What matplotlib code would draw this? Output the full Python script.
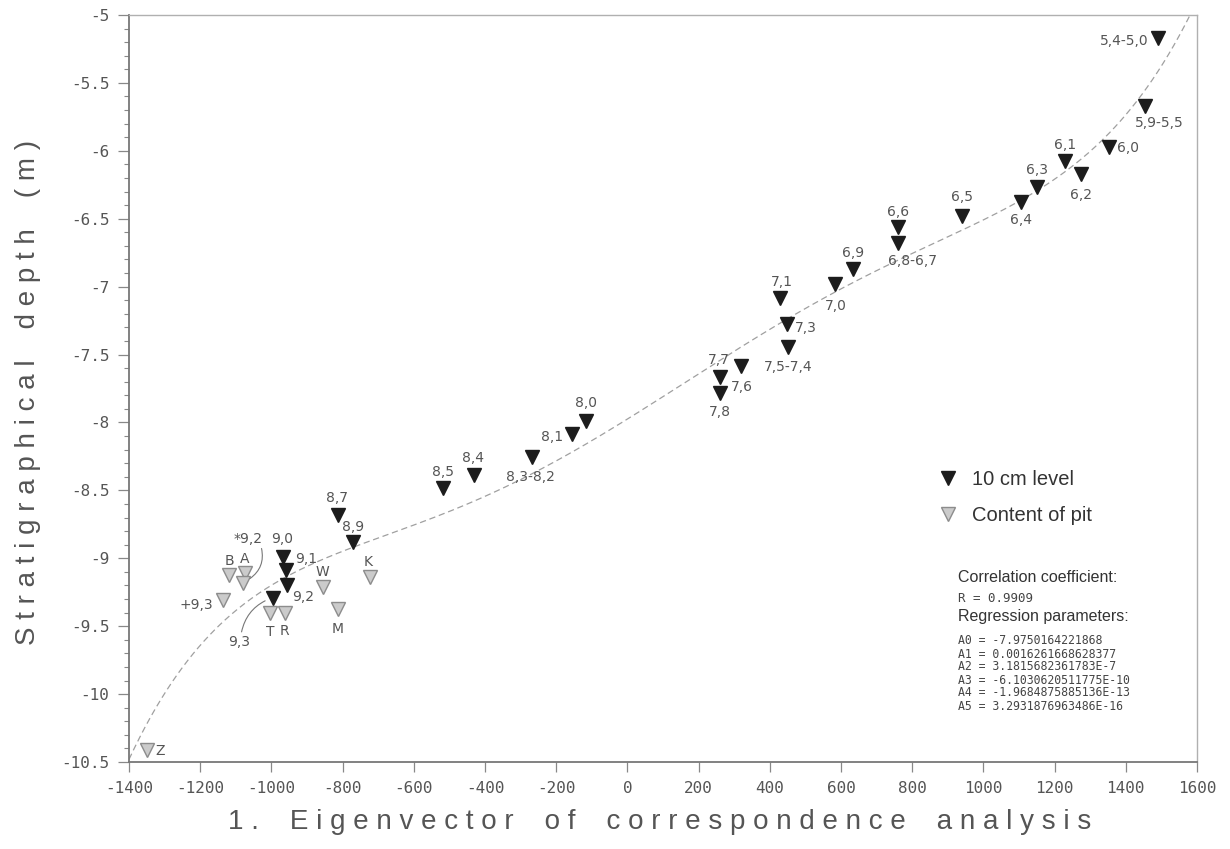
import matplotlib
matplotlib.use("Agg")
import matplotlib.pyplot as plt
import numpy as np
from matplotlib.ticker import MultipleLocator

# 10 cm levels (black triangles)
level_labels = ['5,4-5,0', '5,9-5,5', '6,0', '6,1', '6,2', '6,3', '6,4', '6,5',
                '6,6', '6,8-6,7', '6,9', '7,0', '7,1', '7,3', '7,5-7,4', '7,7',
                '7,6', '7,8', '8,0', '8,1', '8,3-8,2', '8,4', '8,5', '8,7', '8,9',
                '9,0', '9,1', '9,2', '9,3']
level_x = [1490, 1454, 1353, 1229, 1274, 1151, 1106, 940, 760, 760, 634, 583,
           429, 448, 451, 260, 319, 260, -116, -156, -268, -431, -518, -813,
           -771, -967, -959, -956, -996]
level_y = [-5.17, -5.67, -5.97, -6.075, -6.17, -6.27, -6.38, -6.48, -6.56, -6.68,
           -6.87, -6.98, -7.08, -7.275, -7.445, -7.665, -7.585, -7.78, -7.99,
           -8.085, -8.255, -8.39, -8.48, -8.68, -8.88, -8.99, -9.09, -9.20, -9.29]

# content of pits (grey triangles)
pit_labels = ['B', 'A', '*9,2', '+9,3', 'T', 'R', 'W', 'M', 'K', 'Z']
pit_x = [-1119, -1074, -1080, -1136, -1004, -962, -855, -813, -723, -1349]
pit_y = [-9.12, -9.11, -9.18, -9.31, -9.40, -9.40, -9.21, -9.37, -9.14, -10.41]

r_value = '0.9909'
reg_params = ['-7.9750164221868', '0.0016261668628377', '3.1815682361783E-7',
              '-6.1030620511775E-10', '-1.9684875885136E-13', '3.2931876963486E-16']

x_ticks = list(range(-1400, 1601, 200))
y_ticks = [-5, -5.5, -6, -6.5, -7, -7.5, -8, -8.5, -9, -9.5, -10, -10.5]
y_tick_labels = ['-5', '-5.5', '-6', '-6.5', '-7', '-7.5', '-8', '-8.5', '-9',
                 '-9.5', '-10', '-10.5']

# label placement: (dx px, dy px, ha)
place = {
    '5,4-5,0': (-9, -3, 'right'), '5,9-5,5': (14, -17, 'center'),
    '6,0': (8, -1, 'left'), '6,1': (0, 16, 'center'), '6,2': (0, -21, 'center'),
    '6,3': (0, 17, 'center'), '6,4': (0, -18, 'center'), '6,5': (0, 19, 'center'),
    '6,6': (0, 15, 'center'), '6,8-6,7': (15, -18, 'center'),
    '6,9': (0, 16, 'center'), '7,0': (1, -22, 'center'), '7,1': (2, 16, 'center'),
    '7,3': (8, -4, 'left'), '7,5-7,4': (0, -20, 'center'),
    '7,7': (-1, 17, 'center'), '7,6': (1, -21, 'center'), '7,8': (0, -19, 'center'),
    '8,0': (0, 18, 'center'), '8,1': (-9, -3, 'right'),
    '8,3-8,2': (-2, -20, 'center'), '8,4': (-1, 17, 'center'),
    '8,5': (0, 16, 'center'), '8,7': (-1, 17, 'center'), '8,9': (0, 15, 'center'),
    '9,0': (-1, 18, 'center'), '9,1': (9, 11, 'left'), '9,2': (5, -12, 'left'),
    'B': (0, 14, 'center'), 'A': (0, 14, 'center'), '+9,3': (-10, -5, 'right'),
    'T': (0, -19, 'center'), 'R': (0, -18, 'center'), 'W': (-1, 15, 'center'),
    'M': (0, -20, 'center'), 'K': (-2, 15, 'center'), 'Z': (8, -1, 'left'),
}
# labels joined to their mark by a curved leader: (dx px, dy px, rad, relpos)
leaders = {'9,3': (-34, -44, -0.3, (0.6, 1.0)),
           '*9,2': (5, 44, -0.45, (0.9, 0.3))}

GREY = '#555555'
PX = 0.72  # points per pixel at dpi 100

fig = plt.figure(figsize=(12.3, 8.49), dpi=100)
ax = fig.add_axes([129 / 1230, 1 - 762 / 849, 1068 / 1230, 747 / 849])

# regression curve from the printed parameters
xc = np.linspace(-1400, 1600, 600)
yc = np.polyval(list(map(float, reg_params))[::-1], xc)
ax.plot(xc, yc, ls=(0, (5, 3)), lw=0.9, color='#a0a0a0', zorder=1)

ax.plot(level_x, level_y, ls='none', marker='v', ms=10.5, mfc='#1c1c1c',
        mec='#1c1c1c', label='10 cm level', zorder=3)
ax.plot(pit_x, pit_y, ls='none', marker='v', ms=10.5, mfc='#cbcbcb',
        mec='#8c8c8c', mew=1.0, label='Content of pit', zorder=2)

def put_label(txt, x, y):
    if txt in leaders:
        dx, dy, rad, rp = leaders[txt]
        ax.annotate(txt, (x, y), xytext=(dx * PX, dy * PX), textcoords='offset points',
                    ha='center', va='center', fontsize=10, color=GREY,
                    arrowprops=dict(arrowstyle='-', color='#777777', lw=0.8,
                                    connectionstyle='arc3,rad=%s' % rad,
                                    relpos=rp, shrinkA=0, shrinkB=6))
        return
    dx, dy, ha = place[txt]
    ax.annotate(txt, (x, y), xytext=(dx * PX, dy * PX), textcoords='offset points',
                ha=ha, va='center', fontsize=10, color=GREY)

for t, x, y in zip(level_labels, level_x, level_y):
    put_label(t, x, y)
for t, x, y in zip(pit_labels, pit_x, pit_y):
    put_label(t, x, y)

ax.set_xlim(-1400, 1600)
ax.set_ylim(-10.5, -5)
ax.set_xticks(x_ticks)
ax.set_xticklabels([str(v) for v in x_ticks])
ax.set_yticks(y_ticks)
ax.set_yticklabels(y_tick_labels)
ax.yaxis.set_minor_locator(MultipleLocator(0.1))
ax.tick_params(axis='x', direction='out', length=7, width=0.9, color='#888888',
               pad=7, labelsize=11.5, labelcolor=GREY)
ax.tick_params(axis='y', which='major', direction='out', length=8, width=0.9,
               color='#888888', pad=6, labelsize=11.5, labelcolor=GREY)
ax.tick_params(axis='y', which='minor', direction='out', length=3.5, width=0.8,
               color='#888888')
for lab in ax.get_xticklabels() + ax.get_yticklabels():
    lab.set_family('DejaVu Sans Mono')
for s in ['left', 'bottom']:
    ax.spines[s].set_color('#777777')
    ax.spines[s].set_linewidth(1.3)
for s in ['top', 'right']:
    ax.spines[s].set_color('#b0b0b0')
    ax.spines[s].set_linewidth(1.0)

ax.legend(loc='upper left', bbox_to_anchor=((938 - 129) / 1068, (762 - 470) / 747),
          frameon=False, handlelength=1.0, handletextpad=0.7,
          labelspacing=0.85, borderpad=0, borderaxespad=0,
          prop={'family': 'Liberation Sans', 'size': 14.5})
for t in ax.get_legend().get_texts():
    t.set_color('#333333')

def fx(px):
    return px / 1230

def fy(py):
    return 1 - py / 849

sans = 'Liberation Sans'
fig.text(fx(958), fy(577), 'Correlation coefficient:', fontsize=11.5, family=sans,
         color='#333333', va='center')
fig.text(fx(958), fy(598), 'R = ' + r_value, fontsize=9, family='DejaVu Sans Mono',
         color='#444444', va='center')
fig.text(fx(958), fy(617), 'Regression parameters:', fontsize=11.5, family=sans,
         color='#333333', va='center')
for i, p in enumerate(reg_params):
    fig.text(fx(958), fy(641 + 13 * i), 'A%d = %s' % (i, p), fontsize=8.3,
             family='DejaVu Sans Mono', color='#444444', va='center')

fig.text(fx(28), fy(392), 'S t r a t i g r a p h i c a l    d e p t h    ( m )',
         rotation=90, ha='center', va='center', fontsize=20, family=sans, color=GREY)
fig.text(fx(660), fy(822),
         '1 .    E i g e n v e c t o r    o f    c o r r e s p o n d e n c e    a n a l y s i s',
         ha='center', va='center', fontsize=20, family=sans, color=GREY)

fig.savefig('out.png', dpi=100)
